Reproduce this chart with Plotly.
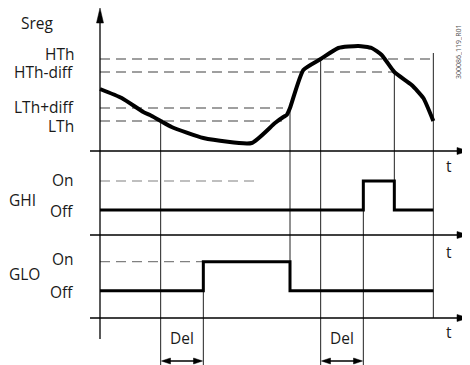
import plotly.graph_objects as go

# ---- data (time in arbitrary units, 0..100) ----
# regulating value Sreg along time
t_sreg = [0, 6.5, 13.0, 15.0, 18.2, 21.5, 31.0, 45.5, 52.5, 55.0, 56.0, 57.0,
          61.0, 66.2, 71.5, 77.5, 81.5, 84.5, 88.3, 93.5, 97.0, 100]
sreg = [6.2, 5.3, 3.9, 3.6, 3.0, 2.4, 1.3, 0.8, 2.8, 3.4, 3.6, 4.3,
        8.1, 9.2, 10.3, 10.5, 10.3, 9.6, 7.9, 6.6, 5.3, 3.0]

# threshold levels and where their guide lines stop
thr_names = ["HTh", "HTh-diff", "LTh+diff", "LTh"]
thr_values = [9.2, 7.9, 4.3, 3.0]
thr_end = [100, 88.3, 54.9, 54.6]
thr_label_shift = [5, 0, 1, -5]

# relay outputs (0 = Off, 1 = On)
t_ghi = [0, 79.0, 79.0, 88.3, 88.3, 100]
ghi = [0, 0, 1, 1, 0, 0]
t_glo = [0, 31.0, 31.0, 57.0, 57.0, 100]
glo = [0, 0, 1, 1, 0, 0]

# delay intervals
del_start = [18.2, 66.2]
del_end = [31.0, 79.0]

# ---- layout helpers (pixel geometry of the 470x365 picture) ----
# the page body has an 8px margin, so the figure is drawn 8px smaller
OFF = 8
W, H = 470 - OFF, 365 - OFF
X_RANGE = [-27.6, 111]        # t = 0 sits at the vertical axis
S_RANGE = [-21.4, 14.3]       # Sreg axis, 0 on the first time axis
GHI_RANGE = [-5.345, 6.966]
GLO_RANGE = [-2.562, 9.748]
FONT = "Open Sans"
FS = 15.5
DASH = "10px,6px"


def paper(v, r):
    return (v - r[0]) / (r[1] - r[0])


def ppx(px):
    return 1 - (px - OFF) / H


def xpx(px):
    return (px - OFF) / W


T_PER_PX = (X_RANGE[1] - X_RANGE[0]) / W


def t_of_px(px):
    return X_RANGE[0] + (px - OFF) * T_PER_PX


fig = go.Figure()

# Sreg curve
fig.add_trace(go.Scatter(x=t_sreg, y=sreg, mode="lines",
                         line=dict(color="black", width=4, shape="spline", smoothing=0.5),
                         yaxis="y", hoverinfo="skip"))
# GHI / GLO outputs
fig.add_trace(go.Scatter(x=t_ghi, y=ghi, mode="lines",
                         line=dict(color="black", width=3), yaxis="y2", hoverinfo="skip"))
fig.add_trace(go.Scatter(x=t_glo, y=glo, mode="lines",
                         line=dict(color="black", width=3), yaxis="y3", hoverinfo="skip"))

shapes = []
annotations = []

# threshold guides + labels
for name, val, end, sh in zip(thr_names, thr_values, thr_end, thr_label_shift):
    shapes.append(dict(type="line", xref="x", yref="y", x0=0, x1=end, y0=val, y1=val,
                       line=dict(color="#808080", width=1.5, dash=DASH), layer="below"))
    annotations.append(dict(text=name, xref="paper", yref="y", x=xpx(76), y=val,
                            xanchor="right", yanchor="middle", yshift=sh, showarrow=False,
                            font=dict(size=FS, color="#1a1a1a", family=FONT)))

# "On" guide lines
shapes.append(dict(type="line", xref="x", yref="y2", x0=0, x1=48, y0=1, y1=1,
                   line=dict(color="#808080", width=1.2, dash=DASH), layer="below"))
shapes.append(dict(type="line", xref="x", yref="y3", x0=0, x1=del_end[0], y0=1, y1=1,
                   line=dict(color="#808080", width=1.2, dash=DASH), layer="below"))

# vertical event lines (t, top, bottom) in paper units
bottom = ppx(367)
glo_base = ppx(318)
events = [
    (del_start[0], paper(thr_values[3], S_RANGE), bottom),
    (del_end[0], paper(1, GLO_RANGE), bottom),
    (t_glo[3], paper(thr_values[2], S_RANGE), paper(0, GLO_RANGE)),
    (del_start[1], paper(thr_values[0], S_RANGE), bottom),
    (del_end[1], paper(1, GHI_RANGE), bottom),
    (t_ghi[3], paper(thr_values[1], S_RANGE), paper(0, GHI_RANGE)),
    (t_sreg[-1], paper(9.8, S_RANGE), glo_base),
]
for t, y0, y1 in events:
    shapes.append(dict(type="line", xref="x", yref="paper", x0=t, x1=t, y0=y0, y1=y1,
                       line=dict(color="#222", width=1), layer="below"))


def head(tip_t, tip_y_px, direction, length, half):
    """filled triangle arrow head; x in t-units, y in paper"""
    if direction in ("right", "left"):
        s = 1 if direction == "right" else -1
        bx = tip_t - s * length * T_PER_PX
        p = (f"M{tip_t},{ppx(tip_y_px)} L{bx},{ppx(tip_y_px - half)} "
             f"L{bx},{ppx(tip_y_px + half)} Z")
    else:
        by = tip_y_px + length
        p = (f"M{tip_t},{ppx(tip_y_px)} L{tip_t - half * T_PER_PX},{ppx(by)} "
             f"L{tip_t + half * T_PER_PX},{ppx(by)} Z")
    return dict(type="path", xref="x", yref="paper", path=p,
                fillcolor="black", line=dict(color="black", width=0.5))


# vertical main axis
shapes.append(dict(type="line", xref="x", yref="paper", x0=0, x1=0, y0=ppx(339), y1=ppx(20),
                   line=dict(color="black", width=1.3)))
shapes.append(head(0, 8, "up", 15, 3.5))

# three time axes
for ypx in [151, 235, 318]:
    shapes.append(dict(type="line", xref="x", yref="paper", x0=t_of_px(90), x1=t_of_px(460),
                       y0=ppx(ypx), y1=ppx(ypx), line=dict(color="black", width=1.3)))
    shapes.append(head(t_of_px(469), ypx, "right", 12, 3.5))

# delay arrows
for a, b in zip(del_start, del_end):
    shapes.append(dict(type="line", xref="x", yref="paper", x0=a + 3 * T_PER_PX,
                       x1=b - 3 * T_PER_PX, y0=ppx(361), y1=ppx(361),
                       line=dict(color="black", width=1.3)))
    shapes.append(head(a + 0.8 * T_PER_PX, 361, "left", 9, 3))
    shapes.append(head(b - 0.8 * T_PER_PX, 361, "right", 9, 3))
    annotations.append(dict(text="Del", xref="x", yref="paper", x=(a + b) / 2, y=ppx(338),
                            xanchor="center", yanchor="middle", showarrow=False,
                            font=dict(size=FS, color="#1a1a1a", family=FONT)))


def label(text, x, y, anchor="center", size=FS, **kw):
    annotations.append(dict(text=text, xref="paper", yref="paper", x=xpx(x), y=ppx(y),
                            xanchor=anchor, yanchor="middle", showarrow=False,
                            font=dict(size=size, color="#1a1a1a", family=FONT), **kw))


label("Sreg", 38, 23)
label("GHI", 23, 200)
label("GLO", 24, 274)
label("On", 76, 180, "right")
label("Off", 76, 211, "right")
label("On", 76, 259, "right")
label("Off", 76, 292, "right")
for ypx in [166, 252, 332]:
    label("t", 449, ypx)
label("300086_119_R01", 458, 52, size=7, textangle=-90)
annotations[-1]["font"]["color"] = "#555"

fig.update_layout(
    width=W, height=H, margin=dict(l=0, r=0, t=0, b=0),
    paper_bgcolor="white", plot_bgcolor="white", showlegend=False,
    xaxis=dict(range=X_RANGE, visible=False, fixedrange=True),
    yaxis=dict(range=S_RANGE, visible=False, fixedrange=True),
    yaxis2=dict(range=GHI_RANGE, visible=False, overlaying="y", fixedrange=True),
    yaxis3=dict(range=GLO_RANGE, visible=False, overlaying="y", fixedrange=True),
    shapes=shapes, annotations=annotations,
)

fig.write_html("out.html")
